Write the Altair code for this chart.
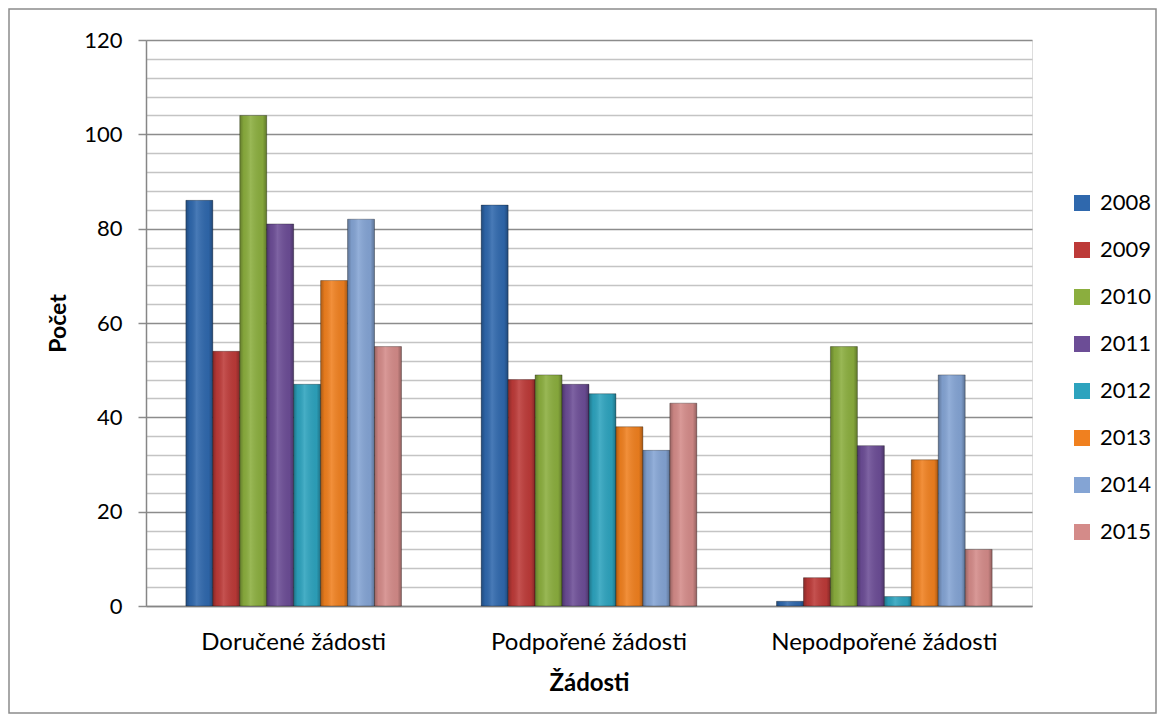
import altair as alt
import pandas as pd

categories = ["Doručené žádosti", "Podpořené žádosti", "Nepodpořené žádosti"]
years = ["2008", "2009", "2010", "2011", "2012", "2013", "2014", "2015"]
values = {
    "2008": [86, 85, 1],
    "2009": [54, 48, 6],
    "2010": [104, 49, 55],
    "2011": [81, 47, 34],
    "2012": [47, 45, 2],
    "2013": [69, 38, 31],
    "2014": [82, 33, 49],
    "2015": [55, 43, 12],
}
colors = ["#2F68AD", "#BD3A38", "#8BAE3E", "#6C4D96", "#2DA3BE", "#F0801F", "#84A4D4", "#D48B89"]

rows = []
for y in years:
    for c, v in zip(categories, values[y]):
        rows.append({"Žádosti": c, "Rok": y, "Počet": v})
df = pd.DataFrame(rows)

W, H = 886, 566
PL, PT, PR, PB = 138, 32, 125, 108
FONT = "Lato"

x = alt.X("Žádosti:N", sort=categories,
          scale=alt.Scale(paddingInner=0.27, paddingOuter=0.135),
          axis=alt.Axis(title="Žádosti", labelAngle=0, ticks=False, labelPadding=24,
                        labelLimit=0, titlePadding=17, labelFontSize=24, titleFontSize=24,
                        titleFontWeight="bold", domainColor="#868686", domainWidth=1.5,
                        labelColor="#000", titleColor="#000", labelFont=FONT, titleFont=FONT))
xo = alt.XOffset("Rok:N", sort=years, scale=alt.Scale(paddingOuter=0, paddingInner=0))
y = alt.Y("Počet:Q", scale=alt.Scale(domain=[0, 120], nice=False),
          axis=alt.Axis(title="Počet", values=list(range(0, 121, 4)),
                        labelExpr="datum.value % 20 === 0 ? datum.label : ''",
                        gridColor={"condition": {"test": "datum.value % 20 === 0", "value": "#8C8C8C"}, "value": "#C4C4C4"},
                        tickColor={"condition": {"test": "datum.value % 20 === 0", "value": "#8C8C8C"}, "value": "transparent"},
                        gridWidth=1.5, tickWidth=1.5, tickSize=8, labelPadding=16,
                        titlePadding=13, labelFontSize=22, titleFontSize=23,
                        titleFontWeight="bold", domainColor="#868686", domainWidth=1.5,
                        labelColor="#000", titleColor="#000", labelFont=FONT, titleFont=FONT))

bars = alt.Chart(df).mark_bar(stroke="#000", strokeOpacity=0.3, strokeWidth=1).encode(
    x=x, xOffset=xo, y=y,
    color=alt.Color("Rok:N", sort=years, scale=alt.Scale(domain=years, range=colors),
                    legend=alt.Legend(title=None, orient="none", legendX=925, legendY=152,
                                      symbolType="square", symbolSize=256, symbolStrokeWidth=0,
                                      labelFontSize=22, labelFont=FONT, labelColor="#000",
                                      rowPadding=25, labelOffset=7)),
)

shade = alt.Chart(df).mark_bar(
    fill={"gradient": "linear", "x1": 0, "x2": 1, "y1": 0, "y2": 0,
          "stops": [{"offset": 0, "color": "rgba(0,0,0,0.28)"},
                    {"offset": 0.15, "color": "rgba(0,0,0,0.05)"},
                    {"offset": 0.4, "color": "rgba(255,255,255,0.12)"},
                    {"offset": 0.85, "color": "rgba(0,0,0,0.05)"},
                    {"offset": 1, "color": "rgba(0,0,0,0.3)"}]}
).encode(x=x, xOffset=xo, y=y)

frame = alt.Chart(pd.DataFrame({"a": [0]})).mark_rect(
    fill="transparent", stroke="#8C8C8C", strokeWidth=1.5
).encode(x=alt.value(-PL + 1), x2=alt.value(W + PR - 1),
         y=alt.value(-PT + 1), y2=alt.value(H + PB - 1))

chart = alt.layer(bars, shade, frame).properties(
    width=W, height=H,
    autosize=alt.AutoSizeParams(type="none"),
    padding={"left": PL, "top": PT, "right": PR, "bottom": PB},
).configure_view(stroke=None).configure(background="white")

chart.save("out.html", embed_options={"renderer": "svg", "actions": False})
